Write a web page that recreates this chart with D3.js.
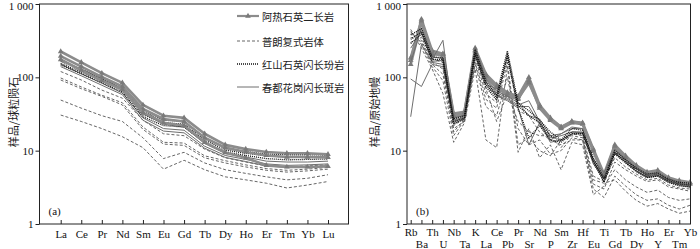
<!DOCTYPE html>
<html><head><meta charset="utf-8">
<script src="https://cdn.jsdelivr.net/npm/d3@7"></script>
<style>
html,body{margin:0;padding:0;background:#fff;}
svg{display:block;}
.tick text{font-family:"Liberation Serif","Times New Roman",serif;font-size:11px;fill:#111;}
</style></head>
<body>
<svg id="c" width="700" height="249"></svg>
<script>
// ---------- data ----------
const reeCats = ["La","Ce","Pr","Nd","Sm","Eu","Gd","Tb","Dy","Ho","Er","Tm","Yb","Lu"];
const spiderCats = ["Rb","Ba","Th","U","Nb","Ta","K","La","Ce","Pb","Pr","Sr","Nd","P","Sm","Zr","Hf","Eu","Ti","Gd","Tb","Dy","Ho","Y","Er","Tm","Yb"];
const yTicks = [1,10,100,1000];
const groupNames = ["阿热石英二长岩","普朗复式岩体","红山石英闪长玢岩","春都花岗闪长斑岩"];

// REE (chondrite normalised)
const reeAre = [
  [225,160,114,84,42,30,28,17,12,10.5,9.6,9.2,9.2,8.9],
  [195,140,101,75,37,27,25,15,11,9.6,8.6,8.2,8.2,8.1],
  [175,125,90,68,33,24,22,13,9.4,8,6.3,6,6,6.1]
];
const reePulang = [
  [120,92,67,52,26,17,16,10.5,8,7,6.2,6,6.2,6.4],
  [98,74,57,45,21,13,12.7,8.5,7.3,6.4,5.7,5.4,5.6,5.9],
  [92,70,55,42,19.5,12.3,11.8,8,6.8,6,5.4,5.1,5.3,5.6],
  [49,38,30,25,15,7.8,9.5,6.8,5.5,4.9,4.4,4.0,4.2,4.7],
  [30.6,25,20,15.5,11,5.6,7.4,5.5,4.4,4.0,3.6,3.1,3.4,3.8]
];
const reeHongshan = [
  [165,128,97,73,34,26,25,15,10.8,9.7,9,8.8,8.8,8.7],
  [155,118,90,68,31,24,23,14,10.2,9.2,8.5,8.2,8.3,8.3],
  [148,112,85,63,29,22,21,13,9.6,8.6,7.8,7.5,7.6,7.7]
];
const reeChundu = [
  [170,130,95,70,32,23,21,12.5,9.2,8.2,7.2,7,7,7.2],
  [150,112,83,61,28,20,19,11.5,8.6,7.6,6.6,6.3,6.4,6.6],
  [140,105,78,58,26,18.5,17.5,10.8,8.1,7.1,6.2,5.9,6,6.2]
];

// trace elements (primitive mantle normalised)
const spAre = [
  [170,620,230,210,32,34,250,110,79,62,55,100,42,28,21,25,24,10.5,4.8,12,8.5,6.3,5.1,5.4,4.3,3.9,3.7],
  [150,560,215,195,29,31,225,100,72,57,50,90,38,26,20,24,23,9.8,4.4,11.2,7.9,5.9,4.8,5.1,4.1,3.7,3.5],
  [185,590,205,205,30,33,235,105,75,60,52,84,40,27,21,25,23.5,10,4.6,11.5,8.1,6,4.9,5.2,4.2,3.8,3.6]
];
const spPulang = [
  [400,300,150,110,20,25,180,60,45,200,35,30,18,14,12,14,14,3.5,3,7,5.5,4.5,3.8,4,3.2,3,2.8],
  [450,250,130,60,13,24,130,14,11,140,9.5,20,8,12,5.5,13,12,2.5,3.3,5.5,4,3.2,2.7,2.9,2.3,2.1,2.2],
  [420,280,140,90,16,26,150,40,30,100,20,12,14,9,10,15,14,3,2.3,4.5,3.3,2.5,2.1,2.2,1.8,1.6,1.8],
  [350,320,160,130,18,27,160,50,38,160,12,15,10,8.5,14,16,15,4,3.6,4,2.8,2.1,1.75,1.9,1.6,1.4,1.5],
  [300,350,180,160,22,28,200,70,25,60,25,18,16,16,11,17,16,4.5,3.8,8,6,4.8,4,4.2,3.4,3.1,3]
];
const spHongshan = [
  [380,460,190,185,27,30,240,88,58,230,45,35,26,18,14,20,19,8,4.2,10,7.5,5.8,4.8,5,4.1,3.7,3.6],
  [330,420,175,175,25,28,215,80,53,205,41,30,24,16,13.5,18,17.5,7.4,3.9,9.4,7.1,5.5,4.5,4.7,3.9,3.5,3.4],
  [290,390,165,170,23,27,200,74,49,185,38,15,22,14,13,17,17,7,3.7,9,6.8,5.2,4.3,4.5,3.7,3.3,3.2]
];
const spChundu = [
  [250,420,175,320,25,28,230,92,62,52,42,48,25,14,17,20,20,7.2,4.4,10.2,7.4,5.6,4.6,4.8,3.9,3.5,3.3],
  [95,75,150,140,24,27,200,80,56,48,38,12,24,13,14,17,17,6.6,4.1,9.3,6.9,5.2,4.3,4.5,3.7,3.4,3.2],
  [29,280,160,150,26,29,210,85,58,50,40,40,23,15,16,18,18,6.9,4.2,9.6,7,5.3,4.4,4.6,3.8,3.4,3.2],
  [160,470,190,180,28,30,260,95,65,55,45,30,27,16,17,21,20,7.5,5,10.5,7.7,5.8,4.7,4.9,4,3.6,3.4]
];

// ---------- styles ----------
const styles = {
  are:      {stroke:"#8c8c8c", width:2.6, dash:null, marker:true},
  pulang:   {stroke:"#555", width:0.9, dash:"3,2", marker:false},
  hongshan: {stroke:"#111", width:1.3, dash:"1,1", marker:false},
  chundu:   {stroke:"#6e6e6e", width:1.0, dash:null, marker:false}
};

const svg = d3.select("#c");
const yTop = 4, yBottom = 224;

function panel(cfg){
  const g = svg.append("g");
  const x = d3.scalePoint().domain(cfg.cats).range([cfg.x0, cfg.x1]);
  const y = d3.scaleLog().domain([1,1000]).range([yBottom, yTop]);
  const line = d3.line().x((d,i)=>x(cfg.cats[i])).y(d=>y(d));

  const drawGroup = (data, st) => {
    data.forEach(s => {
      g.append("path").attr("d", line(s)).attr("fill","none")
        .attr("stroke", st.stroke).attr("stroke-width", st.width)
        .attr("stroke-dasharray", st.dash).attr("stroke-linejoin","round");
      if (st.marker) {
        g.selectAll(null).data(s).enter().append("path")
          .attr("d", d3.symbol(d3.symbolTriangle, 14)())
          .attr("transform",(d,i)=>`translate(${x(cfg.cats[i])},${y(d)})`)
          .attr("fill","#7a7a7a");
      }
    });
  };
  cfg.order.forEach(([data, st]) => drawGroup(data, st));

  // frame
  g.append("rect").attr("x", cfg.fx0).attr("y", yTop).attr("width", cfg.fx1-cfg.fx0)
    .attr("height", yBottom-yTop).attr("fill","none").attr("stroke","#222").attr("stroke-width",1);

  // y axis
  const ya = g.append("g").attr("transform",`translate(${cfg.fx0},0)`)
    .call(d3.axisLeft(y).tickValues(yTicks).tickSize(4).tickPadding(2)
      .tickFormat(d => d===1000 ? "1 000" : String(d)));
  ya.select(".domain").remove();
  ya.selectAll("line").attr("stroke","#222");
  ya.selectAll(".tick text").filter(d => d===1000).attr("y", 2.2);

  // x axis
  const xa = g.append("g").attr("transform",`translate(0,${yBottom})`)
    .call(d3.axisBottom(x).tickSize(-4).tickPadding(5));
  xa.select(".domain").remove();
  xa.selectAll("line").attr("stroke","#222");
  if (cfg.twoRow) {
    xa.selectAll(".tick text").attr("dy",(d,i)=> i%2 ? "1.95em" : "0.85em").attr("y",3);
  } else {
    xa.selectAll(".tick text").attr("y",6);
  }

  // y title
  g.append("text").attr("transform",`translate(${cfg.titleX},112) rotate(-90)`)
    .attr("text-anchor","middle").attr("dominant-baseline","central")
    .style("font-family","'Noto Sans CJK SC',sans-serif").style("font-size","11px").attr("fill","#222")
    .text(cfg.title);
  // panel label
  g.append("text").attr("x", cfg.fx0+9).attr("y", 215)
    .style("font-family","'Liberation Serif',serif").style("font-size","11px").attr("fill","#111")
    .text(cfg.label);
  return {g,x,y};
}

panel({cats:reeCats, x0:60.7, x1:328, fx0:39.5, fx1:348.5, title:"样品/球粒陨石", titleX:13, label:"(a)",
  order:[[reePulang,styles.pulang],[reeChundu,styles.chundu],[reeHongshan,styles.hongshan],[reeAre,styles.are]]});
panel({cats:spiderCats, x0:410.7, x1:690, fx0:407, fx1:690.5, title:"样品/原始地幔", titleX:374, label:"(b)", twoRow:true,
  order:[[spPulang,styles.pulang],[spAre,styles.are],[spChundu,styles.chundu],[spHongshan,styles.hongshan]]});

// legend
const lg = svg.append("g");
const legendKeys = ["are","pulang","hongshan","chundu"];
const legY = [16, 41, 64, 87];
groupNames.forEach((name,i)=>{
  const st = styles[legendKeys[i]];
  lg.append("line").attr("x1",237).attr("x2",259).attr("y1",legY[i]).attr("y2",legY[i])
    .attr("stroke",st.stroke).attr("stroke-width",st.marker?2.2:st.width).attr("stroke-dasharray",st.dash);
  if (st.marker) lg.append("path").attr("d",d3.symbol(d3.symbolTriangle,14)())
    .attr("transform",`translate(248,${legY[i]})`).attr("fill","#7a7a7a");
  lg.append("text").attr("x",262).attr("y",legY[i]).attr("dominant-baseline","central")
    .style("font-family","'Noto Sans CJK SC',sans-serif").style("font-size","10.3px").attr("fill","#222").text(name);
});
</script>
</body></html>
